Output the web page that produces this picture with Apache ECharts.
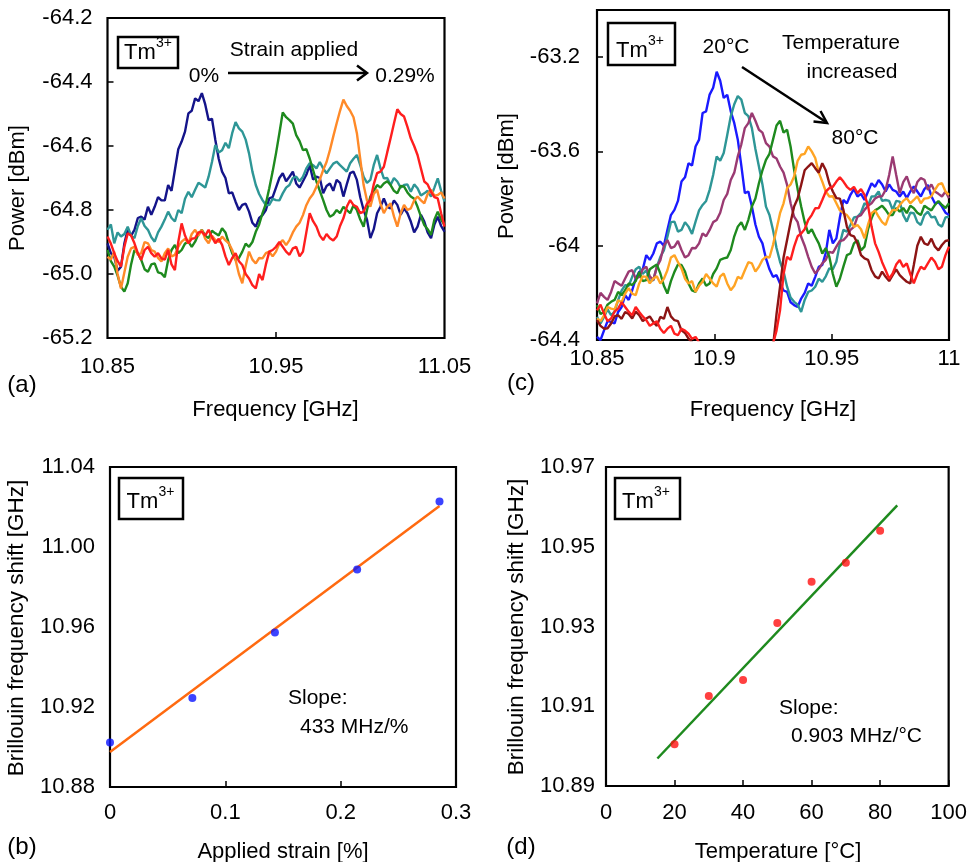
<!DOCTYPE html>
<html>
<head>
<meta charset="utf-8">
<script src="https://cdn.jsdelivr.net/npm/echarts@6.0.0/dist/echarts.min.js"></script>
<style>
html,body{margin:0;padding:0;background:#fff;}
#main{width:970px;height:862px;}
</style>
</head>
<body>
<div id="main"></div>
<script>
// ---------------- DATA ----------------
// Panel (a): Brillouin spectra, strain 0% ... 0.29%
const freqA = [
 10.850,10.852,10.854,10.856,10.858,10.860,10.862,10.864,10.866,10.868,
 10.870,10.872,10.874,10.876,10.878,10.880,10.882,10.884,10.886,10.888,
 10.890,10.892,10.894,10.896,10.898,10.900,10.902,10.904,10.906,10.908,
 10.910,10.912,10.914,10.916,10.918,10.920,10.922,10.924,10.926,10.928,
 10.930,10.932,10.934,10.936,10.938,10.940,10.942,10.944,10.946,10.948,
 10.950,10.952,10.954,10.956,10.958,10.960,10.962,10.964,10.966,10.968,
 10.970,10.972,10.974,10.976,10.978,10.980,10.982,10.984,10.986,10.988,
 10.990,10.992,10.994,10.996,10.998,11.000,11.002,11.004,11.006,11.008,
 11.010,11.012,11.014,11.016,11.018,11.020,11.022,11.024,11.026,11.028,
 11.030,11.032,11.034,11.036,11.038,11.040,11.042,11.044,11.046,11.048,
 11.050];
const strain0 = [
 -64.904,-64.935,-64.946,-64.990,-64.977,-64.905,-64.862,-64.880,-64.862,-64.825,
 -64.821,-64.830,-64.790,-64.815,-64.790,-64.760,-64.770,-64.770,-64.722,-64.740,
 -64.675,-64.610,-64.586,-64.555,-64.498,-64.490,-64.451,-64.460,-64.435,-64.470,
 -64.519,-64.515,-64.581,-64.640,-64.680,-64.700,-64.748,-64.745,-64.774,-64.800,
 -64.784,-64.780,-64.805,-64.840,-64.852,-64.825,-64.816,-64.800,-64.764,-64.760,
 -64.730,-64.700,-64.685,-64.710,-64.696,-64.680,-64.717,-64.730,-64.710,-64.690,
 -64.660,-64.705,-64.696,-64.700,-64.748,-64.725,-64.717,-64.740,-64.706,-64.715,
 -64.758,-64.720,-64.685,-64.680,-64.706,-64.760,-64.800,-64.830,-64.888,-64.860,
 -64.810,-64.790,-64.764,-64.790,-64.795,-64.770,-64.784,-64.815,-64.795,-64.810,
 -64.836,-64.870,-64.852,-64.815,-64.836,-64.870,-64.888,-64.845,-64.821,-64.850,
 -64.868];
const strain1 = [
 -64.862,-64.845,-64.904,-64.870,-64.883,-64.875,-64.852,-64.880,-64.888,-64.850,
 -64.826,-64.850,-64.862,-64.885,-64.899,-64.870,-64.852,-64.830,-64.805,-64.825,
 -64.836,-64.800,-64.810,-64.765,-64.743,-64.760,-64.737,-64.715,-64.722,-64.730,
 -64.696,-64.650,-64.597,-64.620,-64.613,-64.590,-64.607,-64.560,-64.525,-64.545,
 -64.555,-64.580,-64.623,-64.680,-64.722,-64.750,-64.769,-64.785,-64.784,-64.765,
 -64.769,-64.770,-64.748,-64.730,-64.722,-64.700,-64.696,-64.710,-64.696,-64.670,
 -64.654,-64.660,-64.670,-64.650,-64.670,-64.685,-64.670,-64.655,-64.649,-64.660,
 -64.670,-64.680,-64.654,-64.640,-64.628,-64.660,-64.696,-64.715,-64.706,-64.660,
 -64.628,-64.670,-64.701,-64.700,-64.722,-64.700,-64.711,-64.730,-64.722,-64.720,
 -64.743,-64.720,-64.732,-64.755,-64.748,-64.740,-64.758,-64.730,-64.701,-64.740,
 -64.774];
const strain2 = [
 -64.925,-64.960,-64.977,-65.005,-65.040,-65.055,-65.029,-64.970,-64.925,-64.935,
 -64.956,-64.985,-64.993,-64.970,-64.967,-64.995,-64.998,-65.010,-64.956,-64.925,
 -64.909,-64.935,-64.925,-64.905,-64.899,-64.915,-64.899,-64.875,-64.862,-64.880,
 -64.888,-64.865,-64.873,-64.880,-64.857,-64.870,-64.904,-64.935,-64.956,-64.950,
 -64.930,-64.905,-64.915,-64.900,-64.868,-64.845,-64.810,-64.780,-64.732,-64.680,
 -64.623,-64.560,-64.495,-64.510,-64.519,-64.530,-64.566,-64.585,-64.613,-64.610,
 -64.639,-64.675,-64.711,-64.740,-64.769,-64.800,-64.821,-64.815,-64.800,-64.810,
 -64.790,-64.800,-64.810,-64.785,-64.800,-64.830,-64.852,-64.800,-64.758,-64.740,
 -64.722,-64.730,-64.717,-64.710,-64.722,-64.740,-64.748,-64.725,-64.727,-64.745,
 -64.758,-64.765,-64.790,-64.820,-64.847,-64.860,-64.878,-64.830,-64.805,-64.830,
 -64.847];
const strain3 = [
 -64.946,-64.955,-64.930,-65.000,-65.045,-64.995,-64.946,-64.920,-64.915,-64.940,
 -64.935,-64.900,-64.904,-64.925,-64.930,-64.950,-64.961,-64.935,-64.920,-64.945,
 -64.940,-64.915,-64.899,-64.890,-64.904,-64.875,-64.862,-64.880,-64.862,-64.890,
 -64.904,-64.880,-64.894,-64.900,-64.883,-64.895,-64.904,-64.925,-64.956,-65.000,
 -65.029,-64.975,-64.930,-64.955,-64.967,-64.950,-64.951,-64.935,-64.930,-64.945,
 -64.930,-64.905,-64.894,-64.910,-64.894,-64.870,-64.852,-64.840,-64.816,-64.785,
 -64.764,-64.750,-64.727,-64.705,-64.675,-64.650,-64.613,-64.570,-64.529,-64.490,
 -64.455,-64.475,-64.490,-64.510,-64.560,-64.640,-64.722,-64.770,-64.790,-64.750,
 -64.737,-64.780,-64.810,-64.790,-64.779,-64.820,-64.852,-64.810,-64.784,-64.800,
 -64.795,-64.770,-64.758,-64.770,-64.779,-64.750,-64.737,-64.755,-64.753,-64.745,
 -64.764];
const strain4 = [
 -64.883,-64.905,-64.935,-64.960,-64.977,-64.915,-64.873,-64.880,-64.904,-64.935,
 -64.956,-64.925,-64.915,-64.935,-64.946,-64.935,-64.951,-64.955,-64.925,-64.970,
 -64.988,-64.900,-64.842,-64.880,-64.904,-64.890,-64.888,-64.870,-64.868,-64.880,
 -64.862,-64.885,-64.904,-64.890,-64.909,-64.945,-64.972,-64.950,-64.935,-64.960,
 -64.972,-65.000,-65.014,-65.035,-65.045,-65.000,-65.019,-64.970,-64.930,-64.925,
 -64.915,-64.900,-64.915,-64.930,-64.940,-64.920,-64.915,-64.945,-64.930,-64.870,
 -64.810,-64.835,-64.852,-64.880,-64.894,-64.875,-64.888,-64.895,-64.883,-64.850,
 -64.826,-64.790,-64.769,-64.785,-64.790,-64.810,-64.805,-64.780,-64.769,-64.720,
 -64.685,-64.680,-64.665,-64.620,-64.576,-64.530,-64.485,-64.500,-64.508,-64.540,
 -64.576,-64.600,-64.628,-64.670,-64.711,-64.720,-64.743,-64.760,-64.764,-64.810,
 -64.852];
const yTicksA = [-65.2, -65.0, -64.8, -64.6, -64.4, -64.2];
const xLabelsA = [10.85, 10.95, 11.05];
const xTicksA = [10.95];

// Panel (c): Brillouin spectra, 20 C ... 80 C
const freqC = [
 10.8500,10.8515,10.8530,10.8545,10.8560,10.8575,10.8590,10.8605,10.8620,10.8635,
 10.8650,10.8665,10.8680,10.8695,10.8710,10.8725,10.8740,10.8755,10.8770,10.8785,
 10.8800,10.8815,10.8830,10.8845,10.8860,10.8875,10.8890,10.8905,10.8920,10.8935,
 10.8950,10.8965,10.8980,10.8995,10.9010,10.9025,10.9040,10.9055,10.9070,10.9085,
 10.9100,10.9115,10.9130,10.9145,10.9160,10.9175,10.9190,10.9205,10.9220,10.9235,
 10.9250,10.9265,10.9280,10.9295,10.9310,10.9325,10.9340,10.9355,10.9370,10.9385,
 10.9400,10.9415,10.9430,10.9445,10.9460,10.9475,10.9490,10.9505,10.9520,10.9535,
 10.9550,10.9565,10.9580,10.9595,10.9610,10.9625,10.9640,10.9655,10.9670,10.9685,
 10.9700,10.9715,10.9730,10.9745,10.9760,10.9775,10.9790,10.9805,10.9820,10.9835,
 10.9850,10.9865,10.9880,10.9895,10.9910,10.9925,10.9940,10.9955,10.9970,10.9985,
 11.0000];
const temp20 = [
 -64.387,-64.400,-64.359,-64.320,-64.323,-64.330,-64.281,-64.260,-64.210,-64.230,
 -64.189,-64.140,-64.111,-64.100,-64.040,-64.060,-64.033,-63.990,-63.983,-64.000,
 -63.933,-63.870,-63.848,-63.810,-63.728,-63.710,-63.650,-63.660,-63.579,-63.550,
 -63.437,-63.430,-63.359,-63.330,-63.262,-63.300,-63.373,-63.360,-63.430,-63.480,
 -63.550,-63.660,-63.777,-63.770,-63.834,-63.910,-63.962,-63.990,-64.054,-64.100,
 -64.132,-64.125,-64.160,-64.190,-64.196,-64.240,-64.252,-64.260,-64.224,-64.200,
 -64.160,-64.170,-64.132,-64.090,-64.082,-64.030,-63.933,-63.990,-63.969,-63.880,
 -63.806,-63.820,-63.784,-63.760,-63.791,-63.780,-63.806,-63.770,-63.735,-63.750,
 -63.721,-63.740,-63.770,-63.740,-63.763,-63.770,-63.791,-63.770,-63.798,-63.770,
 -63.749,-63.770,-63.791,-63.760,-63.742,-63.790,-63.820,-63.815,-63.834,-63.860,
 -63.870];
const temp30 = [
 -64.302,-64.330,-64.302,-64.270,-64.295,-64.280,-64.231,-64.190,-64.167,-64.170,
 -64.132,-64.100,-64.089,-64.120,-64.104,-64.150,-64.146,-64.090,-64.047,-64.020,
 -63.962,-63.900,-63.898,-63.940,-63.933,-63.900,-63.919,-63.950,-63.898,-63.850,
 -63.827,-63.810,-63.763,-63.700,-63.621,-63.640,-63.607,-63.530,-63.451,-63.400,
 -63.365,-63.380,-63.437,-63.450,-63.501,-63.590,-63.664,-63.740,-63.834,-63.870,
 -63.933,-64.010,-64.068,-64.110,-64.174,-64.220,-64.238,-64.250,-64.281,-64.230,
 -64.196,-64.190,-64.174,-64.140,-64.153,-64.130,-64.096,-64.100,-64.068,-63.990,
 -63.933,-63.940,-63.912,-63.880,-63.877,-63.860,-63.820,-63.830,-63.791,-63.790,
 -63.770,-63.810,-63.806,-63.810,-63.848,-63.810,-63.813,-63.870,-63.898,-63.860,
 -63.862,-63.900,-63.912,-63.870,-63.855,-63.880,-63.877,-63.910,-63.919,-63.880,
 -63.877];
const temp40 = [
 -64.245,-64.200,-64.217,-64.230,-64.196,-64.150,-64.160,-64.170,-64.139,-64.110,
 -64.104,-64.140,-64.132,-64.100,-64.089,-64.130,-64.146,-64.090,-64.061,-64.000,
 -63.976,-64.010,-64.004,-63.980,-64.018,-64.050,-64.040,-64.010,-64.011,-63.990,
 -63.948,-63.960,-63.933,-63.900,-63.891,-63.860,-63.806,-63.780,-63.721,-63.690,
 -63.621,-63.570,-63.501,-63.480,-63.437,-63.470,-63.508,-63.520,-63.565,-63.580,
 -63.621,-63.630,-63.664,-63.690,-63.742,-63.820,-63.877,-63.900,-63.962,-64.000,
 -64.047,-64.090,-64.118,-64.100,-64.075,-64.060,-64.026,-64.030,-64.004,-63.980,
 -63.976,-63.960,-63.933,-63.920,-63.877,-63.870,-63.848,-63.830,-63.820,-63.800,
 -63.791,-63.790,-63.763,-63.700,-63.621,-63.700,-63.777,-63.730,-63.706,-63.750,
 -63.777,-63.730,-63.713,-63.720,-63.763,-63.740,-63.770,-63.780,-63.791,-63.770,
 -63.798];
const temp50 = [
 -64.252,-64.290,-64.281,-64.250,-64.238,-64.230,-64.196,-64.210,-64.189,-64.160,
 -64.167,-64.150,-64.111,-64.150,-64.146,-64.100,-64.089,-64.080,-64.118,-64.170,
 -64.203,-64.150,-64.111,-64.080,-64.082,-64.110,-64.160,-64.190,-64.196,-64.160,
 -64.139,-64.170,-64.160,-64.120,-64.096,-64.060,-64.054,-64.050,-64.018,-63.960,
 -63.919,-63.900,-63.933,-63.890,-63.834,-63.800,-63.735,-63.680,-63.636,-63.610,
 -63.550,-63.490,-63.470,-63.520,-63.508,-63.580,-63.678,-63.760,-63.834,-63.900,
 -63.948,-63.930,-63.962,-63.990,-64.033,-64.010,-64.047,-64.120,-64.174,-64.140,
 -64.089,-64.040,-64.033,-63.990,-63.976,-64.020,-64.004,-63.930,-63.884,-63.850,
 -63.841,-63.830,-63.848,-63.870,-63.870,-63.840,-63.855,-63.840,-63.862,-63.830,
 -63.841,-63.860,-63.870,-63.830,-63.841,-63.850,-63.827,-63.810,-63.827,-63.840,
 -63.820];
const temp60 = [
 -64.309,-64.320,-64.295,-64.260,-64.267,-64.270,-64.231,-64.240,-64.203,-64.180,
 -64.203,-64.210,-64.160,-64.130,-64.132,-64.160,-64.139,-64.130,-64.160,-64.140,
 -64.104,-64.050,-64.040,-64.070,-64.096,-64.140,-64.160,-64.150,-64.196,-64.170,
 -64.153,-64.120,-64.139,-64.160,-64.174,-64.130,-64.118,-64.160,-64.189,-64.170,
 -64.132,-64.140,-64.104,-64.070,-64.075,-64.110,-64.089,-64.060,-64.047,-64.050,
 -63.997,-63.930,-63.862,-63.820,-63.756,-63.740,-63.706,-63.640,-63.614,-63.610,
 -63.579,-63.600,-63.628,-63.690,-63.728,-63.770,-63.791,-63.790,-63.820,-63.850,
 -63.862,-63.870,-63.891,-63.920,-63.912,-63.930,-63.969,-63.910,-63.862,-63.850,
 -63.877,-63.900,-63.912,-63.870,-63.848,-63.850,-63.827,-63.810,-63.798,-63.820,
 -63.806,-63.790,-63.820,-63.800,-63.798,-63.790,-63.763,-63.740,-63.735,-63.770,
 -63.784];
const temp70 = [
 -64.316,-64.340,-64.352,-64.350,-64.330,-64.300,-64.295,-64.310,-64.281,-64.290,
 -64.309,-64.280,-64.295,-64.320,-64.309,-64.300,-64.323,-64.340,-64.302,-64.310,
 -64.260,-64.300,-64.316,-64.320,-64.359,-64.370,-64.394,-64.410,-64.430,-64.450,
 -64.460,-64.470,-64.480,-64.490,-64.500,-64.510,-64.520,-64.520,-64.520,-64.525,
 -64.530,-64.525,-64.520,-64.515,-64.510,-64.505,-64.500,-64.490,-64.480,-64.460,
 -64.430,-64.290,-64.174,-64.050,-63.976,-63.900,-63.834,-63.800,-63.742,-63.680,
 -63.664,-63.650,-63.671,-63.690,-63.650,-63.680,-63.735,-63.770,-63.798,-63.800,
 -63.848,-63.920,-63.955,-63.960,-63.991,-64.040,-64.054,-64.060,-64.104,-64.130,
 -64.139,-64.110,-64.132,-64.150,-64.125,-64.100,-64.125,-64.140,-64.153,-64.160,
 -64.082,-64.000,-63.962,-63.990,-63.997,-63.970,-64.004,-64.020,-63.997,-63.980,
 -63.976];
const temp80 = [
 -64.274,-64.250,-64.288,-64.320,-64.309,-64.280,-64.267,-64.240,-64.260,-64.280,
 -64.295,-64.260,-64.281,-64.300,-64.316,-64.340,-64.330,-64.320,-64.352,-64.370,
 -64.352,-64.340,-64.373,-64.380,-64.352,-64.360,-64.373,-64.395,-64.387,-64.410,
 -64.430,-64.450,-64.470,-64.490,-64.500,-64.510,-64.520,-64.540,-64.550,-64.550,
 -64.550,-64.555,-64.560,-64.555,-64.550,-64.545,-64.540,-64.520,-64.500,-64.460,
 -64.416,-64.360,-64.274,-64.120,-64.047,-64.060,-64.004,-63.960,-63.948,-63.930,
 -63.891,-63.870,-63.841,-63.840,-63.806,-63.770,-63.756,-63.750,-63.728,-63.710,
 -63.728,-63.750,-63.763,-63.750,-63.777,-63.760,-63.784,-63.830,-63.919,-63.990,
 -64.026,-64.070,-64.104,-64.140,-64.118,-64.080,-64.061,-64.090,-64.075,-64.120,
 -64.160,-64.120,-64.089,-64.100,-64.075,-64.050,-64.068,-64.100,-64.089,-64.040,
 -64.004];

// Panel (b): BFS vs applied strain
const strainPct = [0, 0.0714, 0.143, 0.2143, 0.2857];
const bfsStrain = [10.9023, 10.9245, 10.9573, 10.9887, 11.0228];
const fitStrainX = [0, 0.2857];
const fitStrainY = [10.8975, 11.0205];

// Panel (d): BFS vs temperature
const tempC = [20, 30, 40, 50, 60, 70, 80];
const bfsTemp = [10.9005, 10.9126, 10.9166, 10.9309, 10.9412, 10.9460, 10.9540];
const fitTempX = [15, 85];
const fitTempY = [10.8969, 10.9604];
const yLabelsD = [10.89, 10.91, 10.93, 10.95, 10.97];

// ---------------- CHART ----------------
const FONT = '"Liberation Sans", Arial, sans-serif';
const zip = (xs, ys) => xs.map((x, i) => [x, ys[i]]);
const chart = echarts.init(document.getElementById('main'), null, {renderer: 'canvas'});

const labelStyle = {color: '#000', fontSize: 22, fontFamily: FONT};
function gridBox(left, top, width, height) {
  return {left, top, width, height, show: true, borderColor: '#000', borderWidth: 2.2,
    backgroundColor: 'transparent', containLabel: false};
}
function axisBase(extra) {
  return Object.assign({
    type: 'value',
    axisLine: {show: false},
    splitLine: {show: false},
    axisTick: {show: true, inside: true, length: 6, lineStyle: {color: '#000', width: 1.5}}
  }, extra);
}
function line(xi, data, color, width) {
  return {type: 'line', xAxisIndex: xi, yAxisIndex: xi, data, symbol: 'none', showSymbol: false,
    lineStyle: {color, width: width || 2.4}, itemStyle: {color}, clip: true, animation: false, silent: true};
}
function T(x, y, text, size, opts) {
  opts = opts || {};
  return {type: 'text', x, y, rotation: opts.rot || 0, z: 100,
    style: {text, fill: '#000', font: (size || 22) + 'px ' + FONT,
      textAlign: opts.align || 'center', textVerticalAlign: 'middle'}};
}
function box(x, y, w, h) {
  return {type: 'rect', z: 99, shape: {x, y, width: w, height: h},
    style: {fill: '#fff', stroke: '#000', lineWidth: 2.5}};
}
function tm(cx, cy, boxX, boxY, w, h) {
  return [box(boxX, boxY, w, h), T(cx, cy, 'Tm', 22), T(cx + 24, cy - 10, '3+', 14)];
}

const option = {
  backgroundColor: '#fff',
  animation: false,
  grid: [
    gridBox(107.5, 18, 337, 320),   // (a)
    gridBox(597, 10, 352, 330),     // (c)
    gridBox(110, 467, 346, 320),    // (b)
    gridBox(606, 467, 346, 319)     // (d)
  ],
  xAxis: [
    axisBase({gridIndex: 0, min: 10.85, max: 11.05,
      axisTick: {show: true, inside: true, length: 6, lineStyle: {color: '#000', width: 1.5}, customValues: xTicksA},
      axisLabel: Object.assign({}, labelStyle, {margin: 18, customValues: xLabelsA, formatter: v => v.toFixed(2)})}),
    axisBase({gridIndex: 1, min: 10.85, max: 11.0, interval: 0.05,
      axisLabel: Object.assign({}, labelStyle, {margin: 8, formatter: v => String(+v.toFixed(2))})}),
    axisBase({gridIndex: 2, min: 0, max: 0.3, interval: 0.1,
      axisLabel: Object.assign({}, labelStyle, {margin: 15, formatter: v => String(+v.toFixed(1))})}),
    axisBase({gridIndex: 3, min: 0, max: 100, interval: 20,
      axisLabel: Object.assign({}, labelStyle, {margin: 16})})
  ],
  yAxis: [
    axisBase({gridIndex: 0, min: -65.2, max: -64.2, interval: 0.2,
      axisLabel: Object.assign({}, labelStyle, {margin: 15, customValues: yTicksA, formatter: v => v.toFixed(1)})}),
    axisBase({gridIndex: 1, min: -64.4, max: -63.0, interval: 0.4,
      axisLabel: Object.assign({}, labelStyle, {margin: 17, showMaxLabel: false, formatter: v => String(+v.toFixed(1))})}),
    axisBase({gridIndex: 2, min: 10.88, max: 11.04, interval: 0.04, axisTick: {show: false},
      axisLabel: Object.assign({}, labelStyle, {margin: 15, formatter: v => v.toFixed(2)})}),
    axisBase({gridIndex: 3, min: 10.89, max: 10.97, axisTick: {show: false},
      axisLabel: Object.assign({}, labelStyle, {margin: 11, customValues: yLabelsD, formatter: v => v.toFixed(2)})})
  ],
  series: [
    line(0, zip(freqA, strain0), '#14148a'),
    line(0, zip(freqA, strain1), '#2e9696'),
    line(0, zip(freqA, strain2), '#1e8a1e'),
    line(0, zip(freqA, strain3), '#ff8a28'),
    line(0, zip(freqA, strain4), '#ff1e1e'),

    line(1, zip(freqC, temp20), '#1a1aff'),
    line(1, zip(freqC, temp30), '#2e9696'),
    line(1, zip(freqC, temp40), '#9a3a72'),
    line(1, zip(freqC, temp50), '#1e8a1e'),
    line(1, zip(freqC, temp60), '#ffa424'),
    line(1, zip(freqC, temp70), '#8c1414'),
    line(1, zip(freqC, temp80), '#ff1e1e'),

    line(2, zip(fitStrainX, fitStrainY), '#ff6a10', 2.5),
    {type: 'scatter', xAxisIndex: 2, yAxisIndex: 2, data: zip(strainPct, bfsStrain), symbolSize: 8,
      itemStyle: {color: '#0a14ff'}, z: 5, animation: false},

    line(3, zip(fitTempX, fitTempY), '#1e8a1e', 2.5),
    {type: 'scatter', xAxisIndex: 3, yAxisIndex: 3, data: zip(tempC, bfsTemp), symbolSize: 8,
      itemStyle: {color: '#ff1010'}, z: 5, animation: false}
  ],
  graphic: [].concat(
    // panel (a)
    tm(140, 53, 118, 37, 60, 31),
    [
      T(294, 50, 'Strain applied', 21),
      T(204, 76, '0%', 21),
      T(405, 76, '0.29%', 21),
      {type: 'line', z: 100, shape: {x1: 228, y1: 73, x2: 366, y2: 73}, style: {stroke: '#000', lineWidth: 2.5}},
      {type: 'polyline', z: 100, shape: {points: [[357, 65.5], [367, 73], [357, 80.5]]}, style: {stroke: '#000', lineWidth: 2.5, fill: null}},
      T(18, 188, 'Power [dBm]', 22, {rot: Math.PI / 2}),
      T(275.5, 410, 'Frequency [GHz]', 22),
      T(22, 385, '(a)', 24)
    ],
    // panel (c)
    tm(632, 51, 608, 23, 67, 42),
    [
      T(726, 47, '20°C', 21),
      T(841, 43, 'Temperature', 21),
      T(852, 72, 'increased', 21),
      T(855, 138, '80°C', 21),
      {type: 'line', z: 100, shape: {x1: 742, y1: 67, x2: 826, y2: 122}, style: {stroke: '#000', lineWidth: 2.5}},
      {type: 'polyline', z: 100, shape: {points: [[813.5, 121.5], [827, 123], [820.5, 111]]}, style: {stroke: '#000', lineWidth: 2.5, fill: null}},
      T(507, 176, 'Power [dBm]', 22, {rot: Math.PI / 2}),
      T(773, 410, 'Frequency [GHz]', 22),
      T(521, 383, '(c)', 24)
    ],
    // panel (b)
    tm(142.5, 502, 119, 478, 64, 41),
    [
      T(288, 698, 'Slope:', 21, {align: 'left'}),
      T(300, 727, '433 MHz/%', 21, {align: 'left'}),
      T(17, 628, 'Brillouin frequency shift [GHz]', 22.5, {rot: Math.PI / 2}),
      T(283, 852, 'Applied strain [%]', 22),
      T(22, 847, '(b)', 24)
    ],
    // panel (d)
    tm(638, 502, 615, 478, 65, 41),
    [
      T(779, 708, 'Slope:', 21, {align: 'left'}),
      T(791, 736, '0.903 MHz/°C', 21, {align: 'left'}),
      T(517, 627, 'Brillouin frequency shift [GHz]', 22.5, {rot: Math.PI / 2}),
      T(778, 852, 'Temperature [°C]', 22),
      T(521, 847, '(d)', 24)
    ]
  )
};
chart.setOption(option);
</script>
</body>
</html>
